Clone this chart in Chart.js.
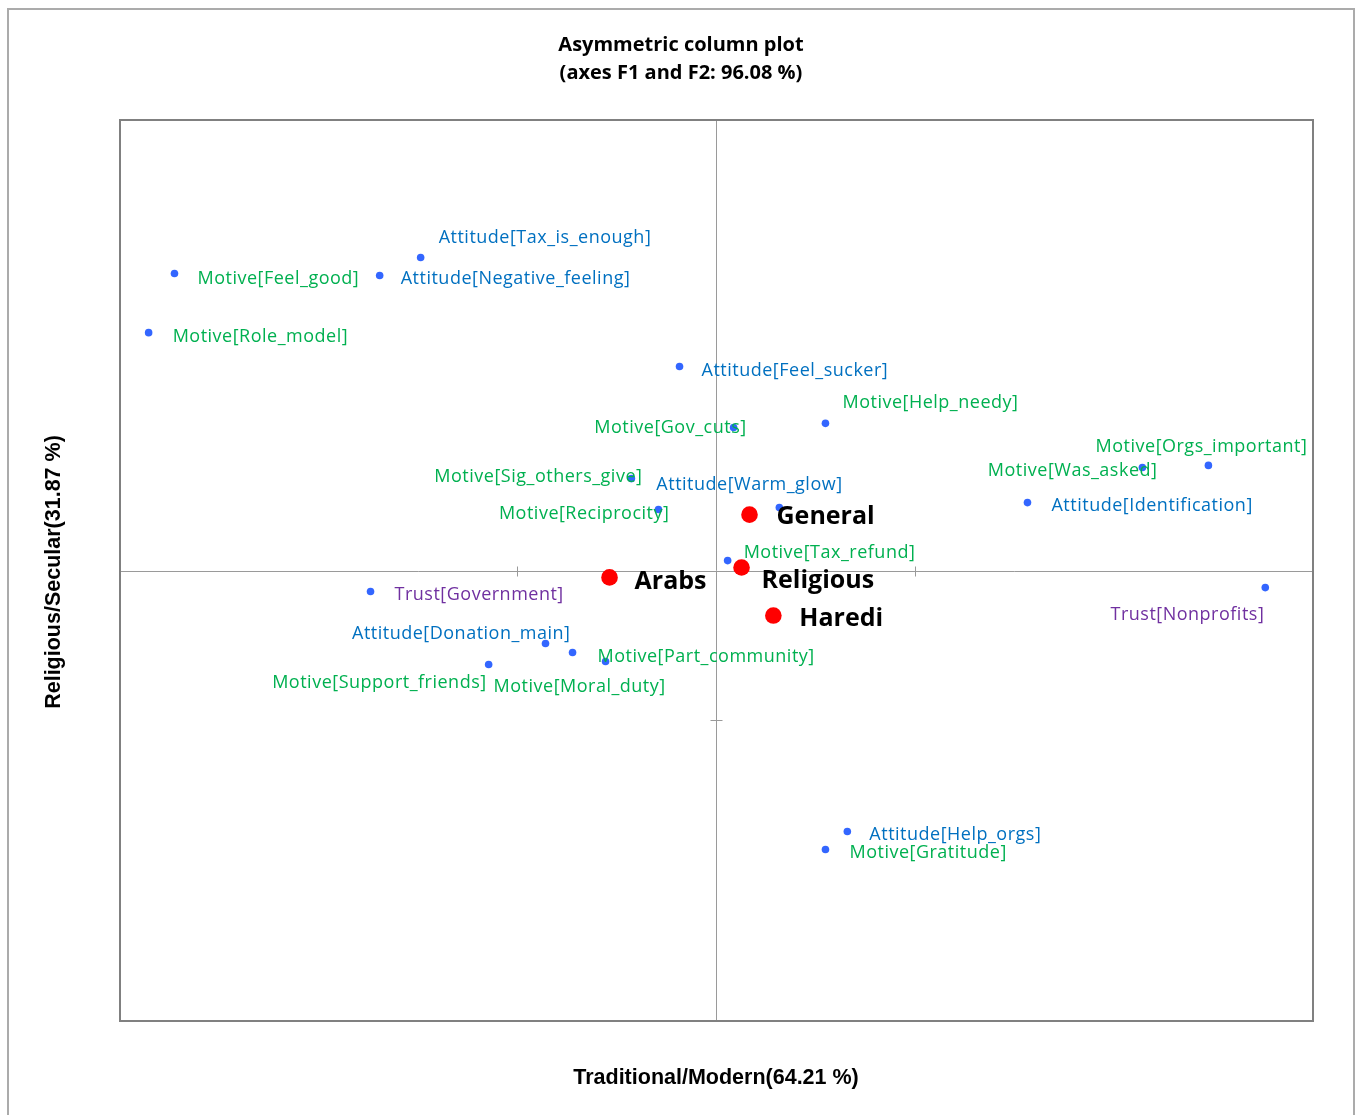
<!DOCTYPE html>
<html>
<head>
<meta charset="utf-8">
<script src="https://cdn.jsdelivr.net/npm/chart.js@4.4.1/dist/chart.umd.min.js"></script>
<style>
  html, body { margin: 0; padding: 0; background: #ffffff; }
  #wrap { width: 1359px; height: 1115px; position: relative; }
  canvas { display: block; }
</style>
</head>
<body>
<div id="wrap"><canvas id="cplot" width="1359" height="1115"></canvas></div>
<script>
// Column categories (blue points) and their coordinates on F1 / F2
const categories = [
  'Attitude[Tax_is_enough]', 'Motive[Feel_good]', 'Attitude[Negative_feeling]', 'Motive[Role_model]',
  'Attitude[Feel_sucker]', 'Motive[Help_needy]', 'Motive[Gov_cuts]', 'Motive[Sig_others_give]',
  'Attitude[Warm_glow]', 'Motive[Reciprocity]', 'Motive[Orgs_important]', 'Motive[Was_asked]',
  'Attitude[Identification]', 'Motive[Tax_refund]', 'Trust[Nonprofits]', 'Trust[Government]',
  'Attitude[Donation_main]', 'Motive[Part_community]', 'Motive[Moral_duty]', 'Motive[Support_friends]',
  'Attitude[Help_orgs]', 'Motive[Gratitude]'
];
const catF1 = [
  -0.744, -1.363, -0.847, -1.428,
  -0.093, 0.274, 0.043, -0.214,
  0.158, -0.146, 1.237, 1.071,
  0.782, 0.028, 1.380, -0.870,
  -0.430, -0.362, -0.279, -0.573,
  0.329, 0.274
];
const catF2 = [
  1.042, 0.989, 0.982, 0.792,
  0.679, 0.490, 0.476, 0.306,
  0.210, 0.203, 0.350, 0.343,
  0.226, 0.033, -0.057, -0.070,
  -0.243, -0.273, -0.303, -0.313,
  -0.869, -0.929
];

// Row groups (red points)
const groups = ['General', 'Arabs', 'Religious', 'Haredi'];
const groupF1 = [0.083, -0.269, 0.063, 0.143];
const groupF2 = [0.186, -0.023, 0.010, -0.150];

// Axis extent and tick marks along the centre axes
const axisMin = -1.5;
const axisMax = 1.5;
const xTickMarks = [-0.5, 0.5];
const yTickMarks = [-0.5];

// Label placement relative to each point: [text alignment, dx, dy] in pixels
const catLabelPlacement = [
  ['left', 18, -22], ['left', 23, 3], ['left', 21, 1], ['left', 24, 2],
  ['left', 22, 2], ['left', 17, -22], ['right', 13, -2], ['right', 11, -4],
  ['left', -123, -25], ['right', 11, 2], ['center', -7, -21], ['right', 15, 1],
  ['left', 24, 1], ['left', 16, -10], ['right', -1, 25], ['left', 24, 1],
  ['right', 25, -12], ['left', 25, 2], ['left', -112, 23], ['right', -2, 16],
  ['left', 22, 1], ['left', 24, 1]
];
const groupLabelPlacement = [['left', 27, 1], ['left', 25, 3], ['left', 20, 12], ['left', 26, 2]];

function labelColour(name) {
  if (name.startsWith('Attitude')) return '#0070C0';
  if (name.startsWith('Motive')) return '#00B050';
  return '#7030A0';
}

const LABEL_FONT = '18px "Open Sans", "Noto Sans", sans-serif';
const GROUP_FONT = 'bold 25px "Open Sans", "Noto Sans", sans-serif';
const AXIS_TITLE_FONT = 'bold 21.5px "Liberation Sans", Arial, sans-serif';

const framePlugin = {
  id: 'frame',
  beforeDraw(chart) {
    const ctx = chart.ctx;
    const a = chart.chartArea;
    const xs = chart.scales.x, ys = chart.scales.y;
    ctx.save();
    // outer panel border
    ctx.strokeStyle = '#ababab';
    ctx.lineWidth = 2;
    ctx.beginPath();
    ctx.moveTo(8, 1115);
    ctx.lineTo(8, 9);
    ctx.lineTo(1354, 9);
    ctx.lineTo(1354, 1115);
    ctx.stroke();

    // centre axes
    const x0 = Math.floor(xs.getPixelForValue(0)) + 0.5;
    const y0 = Math.round(ys.getPixelForValue(0)) + 0.5;
    ctx.strokeStyle = '#9a9a9a';
    ctx.lineWidth = 1;
    ctx.beginPath();
    ctx.moveTo(x0, a.top); ctx.lineTo(x0, a.bottom);
    ctx.moveTo(a.left, y0); ctx.lineTo(a.right, y0);
    xTickMarks.forEach(v => {
      const px = Math.floor(xs.getPixelForValue(v)) + 0.5;
      ctx.moveTo(px, y0 - 5); ctx.lineTo(px, y0 + 5);
    });
    yTickMarks.forEach(v => {
      const py = Math.floor(ys.getPixelForValue(v)) + 0.5;
      ctx.moveTo(x0 - 6, py); ctx.lineTo(x0 + 6, py);
    });
    ctx.stroke();

    // plot frame
    ctx.strokeStyle = '#808080';
    ctx.lineWidth = 2;
    ctx.strokeRect(a.left, a.top, a.right - a.left, a.bottom - a.top);

    // titles
    ctx.fillStyle = '#000000';
    ctx.textAlign = 'center';
    ctx.textBaseline = 'middle';
    ctx.font = 'bold 20px "Open Sans", "Noto Sans", sans-serif';
    ctx.fillText('Asymmetric column plot', 681, 45);
    ctx.fillText('(axes F1 and F2: 96.08 %)', 681, 73);

    ctx.font = AXIS_TITLE_FONT;
    ctx.fillText('Traditional/Modern(64.21 %)', 716, 1078);
    ctx.save();
    ctx.translate(54, 572);
    ctx.rotate(-Math.PI / 2);
    ctx.fillText('Religious/Secular(31.87 %)', 0, 0);
    ctx.restore();
    ctx.restore();
  }
};

const labelPlugin = {
  id: 'pointLabels',
  afterDatasetsDraw(chart) {
    const ctx = chart.ctx;
    ctx.save();
    ctx.textBaseline = 'middle';
    const catMeta = chart.getDatasetMeta(0);
    ctx.font = LABEL_FONT;
    ctx.letterSpacing = '0.5px';
    catMeta.data.forEach((pt, i) => {
      const [align, dx, dy] = catLabelPlacement[i];
      ctx.textAlign = align;
      ctx.fillStyle = labelColour(categories[i]);
      ctx.fillText(categories[i], pt.x + dx, pt.y + dy + 2);
    });
    ctx.letterSpacing = '0px';
    const grpMeta = chart.getDatasetMeta(1);
    ctx.font = GROUP_FONT;
    ctx.fillStyle = '#000000';
    grpMeta.data.forEach((pt, i) => {
      const [align, dx, dy] = groupLabelPlacement[i];
      ctx.textAlign = align;
      ctx.fillText(groups[i], pt.x + dx, pt.y + dy + 1);
    });
    ctx.restore();
  }
};

new Chart(document.getElementById('cplot'), {
  type: 'scatter',
  data: {
    datasets: [
      {
        label: 'Columns',
        data: categories.map((c, i) => ({ x: catF1[i], y: catF2[i] })),
        backgroundColor: '#3366FF',
        borderWidth: 0,
        pointRadius: 3.8,
        order: 2
      },
      {
        label: 'Rows',
        data: groups.map((g, i) => ({ x: groupF1[i], y: groupF2[i] })),
        backgroundColor: '#FF0000',
        borderWidth: 0,
        pointRadius: 8.3,
        order: 1
      }
    ]
  },
  options: {
    responsive: false,
    animation: false,
    layout: { padding: { left: 120, right: 46, top: 120, bottom: 94 } },
    plugins: { legend: { display: false }, tooltip: { enabled: false }, title: { display: false } },
    scales: {
      x: { type: 'linear', min: axisMin, max: axisMax, display: false },
      y: { type: 'linear', min: axisMin, max: axisMax, display: false }
    }
  },
  plugins: [framePlugin, labelPlugin]
});
</script>
</body>
</html>
